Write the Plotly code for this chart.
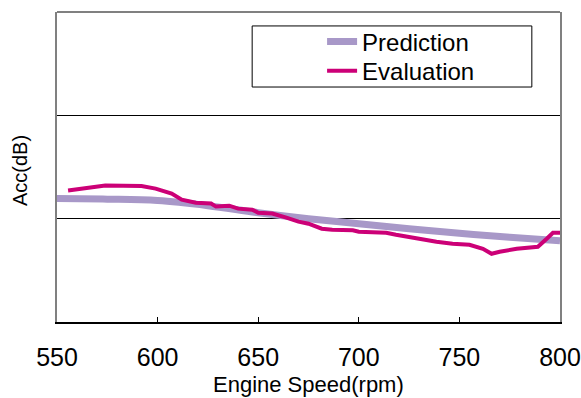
import plotly.graph_objects as go

# Engine speed (rpm) and acceleration level (relative, chart units 0..3)
pred_rpm = [550, 575, 600, 625, 650, 675, 700, 725, 750, 775, 800]
pred_acc = [1.194, 1.189, 1.175, 1.126, 1.058, 1.000, 0.951, 0.903, 0.859, 0.820, 0.786]

eval_rpm = [555.5, 565, 574, 592, 599, 607, 612, 619, 626.6, 629, 635.6, 640, 647, 650,
            657, 664, 670, 675, 681.6, 686.8, 697, 700, 713.6, 718.5, 723.5, 730, 738.6,
            746.6, 755, 761.7, 766, 770, 778.5, 789, 793.4, 796.5, 800]
eval_acc = [1.272, 1.30, 1.320, 1.316, 1.291, 1.243, 1.184, 1.155, 1.146, 1.117, 1.126,
            1.097, 1.087, 1.058, 1.049, 1.010, 0.971, 0.951, 0.903, 0.893, 0.888, 0.874,
            0.864, 0.845, 0.825, 0.806, 0.777, 0.757, 0.748, 0.709, 0.660, 0.680, 0.709,
            0.728, 0.806, 0.864, 0.864]

x_ticks = [550, 600, 650, 700, 750, 800]
x_title = "Engine Speed(rpm)"
y_title = "Acc(dB)"

FONT = "Liberation Sans, Arial, sans-serif"
NARROW = "Liberation Sans Narrow, Arial Narrow, Liberation Sans, sans-serif"

fig = go.Figure()
fig.add_trace(go.Scatter(x=pred_rpm, y=pred_acc, mode="lines", name="Prediction",
                         legend="legend",
                         line=dict(color="#A898C8", width=7, shape="spline")))
fig.add_trace(go.Scatter(x=eval_rpm, y=eval_acc, mode="lines", name="Evaluation",
                         legend="legend2",
                         line=dict(color="#CC0077", width=4)))

leg_common = dict(xanchor="left", yanchor="top", borderwidth=0,
                  bgcolor="rgba(0,0,0,0)", font=dict(size=24))

fig.update_layout(
    width=581, height=398,
    margin=dict(l=57, r=21, t=12, b=76),
    paper_bgcolor="white", plot_bgcolor="white",
    font=dict(family=FONT, color="black", size=20),
    xaxis=dict(range=[550, 800], tickvals=x_ticks, ticks="inside", ticklen=5,
               tickcolor="black", showgrid=False, zeroline=False, automargin=False,
               showline=True, linecolor="black", linewidth=1.5,
               tickfont=dict(size=25, family=NARROW), ticklabelstandoff=12),
    yaxis=dict(range=[0, 3], tickvals=[1, 2, 3], showticklabels=False, ticks="",
               showgrid=True, gridcolor="black", gridwidth=1, zeroline=False,
               automargin=False,
               showline=True, linecolor="#808080", linewidth=2, mirror=True),
    legend=dict(x=0.527, y=0.976, **leg_common),
    legend2=dict(x=0.527, y=0.882, **leg_common),
    showlegend=True,
    annotations=[
        dict(text=x_title, xref="paper", yref="paper", x=0.5, y=-0.201,
             xanchor="center", yanchor="middle", showarrow=False,
             font=dict(size=22)),
        dict(text=y_title, xref="paper", yref="paper", x=-0.0736, y=0.49,
             xanchor="center", yanchor="middle", showarrow=False, textangle=-90,
             font=dict(size=20)),
    ],
)
# top border in grey
fig.add_shape(type="line", xref="paper", yref="paper", x0=0, x1=1, y0=1, y1=1,
              line=dict(color="#808080", width=2))
# legend frame
fig.add_shape(type="rect", xref="paper", yref="paper", x0=0.388, x1=0.944,
              y0=0.758, y1=0.955, line=dict(color="black", width=1))

fig.write_html("out.html")
